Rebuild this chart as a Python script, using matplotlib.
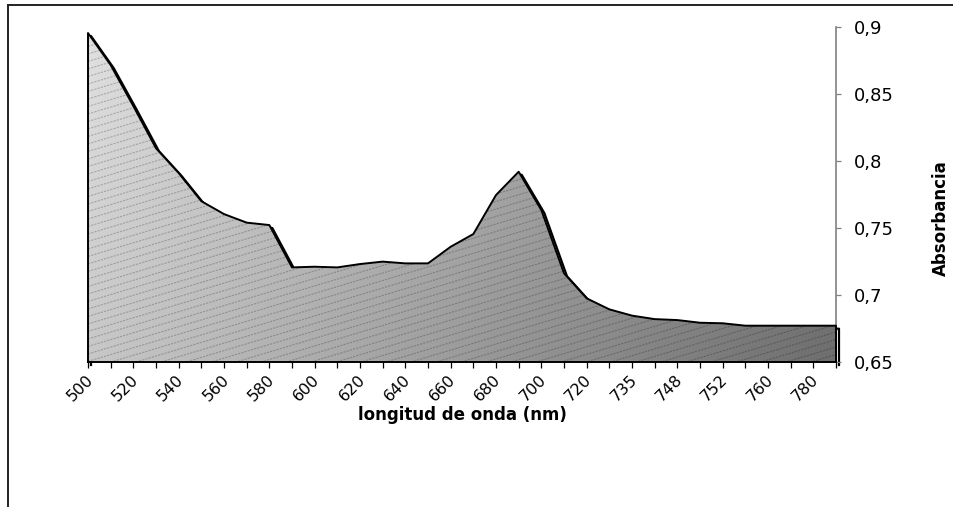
import numpy as np
import matplotlib
matplotlib.use("Agg")
import matplotlib.pyplot as plt
from matplotlib.patches import Polygon
from matplotlib.collections import LineCollection
from matplotlib.lines import Line2D
from matplotlib.transforms import offset_copy, ScaledTranslation
from matplotlib.ticker import FuncFormatter

# wavelengths (nm); only every other one is labelled on the axis
longitud = [500, 510, 520, 530, 540, 550, 560, 570, 580, 590,
            600, 610, 620, 630, 640, 650, 660, 670, 680, 690,
            700, 710, 720, 728, 735, 740, 748, 750, 752, 756,
            760, 770, 780, 800]
absorbancia = [0.8955, 0.8716, 0.8410, 0.8095, 0.7910, 0.7700, 0.7604, 0.7540, 0.7522, 0.7206,
               0.7211, 0.7206, 0.7231, 0.7249, 0.7236, 0.7236, 0.7360, 0.7455, 0.7746, 0.7920,
               0.7634, 0.7162, 0.6975, 0.6893, 0.6846, 0.6820, 0.6813, 0.6793, 0.6789, 0.6771,
               0.6771, 0.6771, 0.6771, 0.6771]
y_ticks = [0.65, 0.70, 0.75, 0.80, 0.85, 0.90]

W, H = 954, 507
fig = plt.figure(figsize=(W / 100, H / 100), dpi=100)
ax = fig.add_axes([88 / W, 1 - 362 / H, 748 / W, 335 / H])

x = np.arange(len(absorbancia))
y = np.array(absorbancia)
ymin, ymax = y_ticks[0], y_ticks[-1]
ax.set_xlim(x[0], x[-1])
ax.set_ylim(ymin, ymax)

# area outline used as clip path
verts = np.column_stack([np.r_[x, x[-1], x[0]], np.r_[y, ymin, ymin]])
area = Polygon(verts, closed=True, facecolor="none", edgecolor="none")
ax.add_patch(area)

# gray gradient fill, light at top-left, dark at bottom-right
gx, gy = np.meshgrid(np.linspace(0, 1, 300), np.linspace(0, 1, 300))
shade = 0.88 - 0.35 * gx - 0.10 * gy
im = ax.imshow(shade, cmap="gray", vmin=0, vmax=1, origin="upper",
               extent=(x[0], x[-1], ymin, ymax), aspect="auto",
               interpolation="bilinear", zorder=2)
im.set_clip_path(area)

# fine dashed diagonal hatching
slope = 0.3 * 748 / 335
step = 7.5 / 335
segs = [[(0, c), (1, c + slope)] for c in np.arange(-slope - step, 1 + step, step)]
hatch = LineCollection(segs, transform=ax.transAxes, colors="k", alpha=0.22,
                       linewidths=0.8, linestyles=[(0, (2, 1))], zorder=3)
hatch.set_clip_path(area)
ax.add_collection(hatch)

# outline with a drop shadow behind the fill
ox = np.r_[x[0], x, x[-1]]
oy = np.r_[ymin, y, ymin]
shadow_tr = offset_copy(ax.transData, fig=fig, x=3, y=-3, units="dots")
ax.plot(ox, oy, color="k", lw=1.6, transform=shadow_tr, zorder=1.5, clip_on=False)
ax.plot(ox, oy, color="k", lw=1.4, zorder=4, clip_on=False)

# axes styling
for side in ("left", "top"):
    ax.spines[side].set_visible(False)
ax.spines["bottom"].set_color("k")
ax.spines["bottom"].set_linewidth(1.4)
ax.spines["bottom"].set_zorder(5)
ax.spines["right"].set_color("#808080")
ax.spines["right"].set_linewidth(1.2)

ax.set_xticks(x)
ax.set_xticklabels([str(v) if i % 2 == 0 else "" for i, v in enumerate(longitud)],
                   rotation=45, ha="right", va="top", fontsize=11.5)
ax.tick_params(axis="x", direction="out", length=4.3, width=0.9, color="k", pad=3)
shift = ScaledTranslation(0.08, 0, fig.dpi_scale_trans)
for lab in ax.get_xticklabels():
    lab.set_transform(lab.get_transform() + shift)

ax.yaxis.tick_right()
ax.set_yticks(y_ticks)
ax.yaxis.set_major_formatter(FuncFormatter(lambda v, p: f"{v:g}".replace(".", ",")))
ax.tick_params(axis="y", direction="out", length=3.6, width=0.9, color="#808080",
               labelsize=13, pad=9)

ax.set_xlabel("longitud de onda (nm)", fontsize=12, fontweight="bold", va="center")
ax.xaxis.set_label_coords(0.5, (362 - 415) / 335)
ax.yaxis.set_label_position("right")
ax.set_ylabel("Absorbancia", fontsize=12, fontweight="bold", va="center", ha="center")
ax.yaxis.set_label_coords((941 - 88) / 748, (362 - 218) / 335)

# chart frame (top and left edges)
fig.add_artist(Line2D([8 / W, 1], [1 - 5 / H, 1 - 5 / H], color="#222222", lw=1.4,
                      transform=fig.transFigure))
fig.add_artist(Line2D([8 / W, 8 / W], [0, 1 - 5 / H], color="#222222", lw=1.4,
                      transform=fig.transFigure))

fig.savefig("out.png", dpi=100)
